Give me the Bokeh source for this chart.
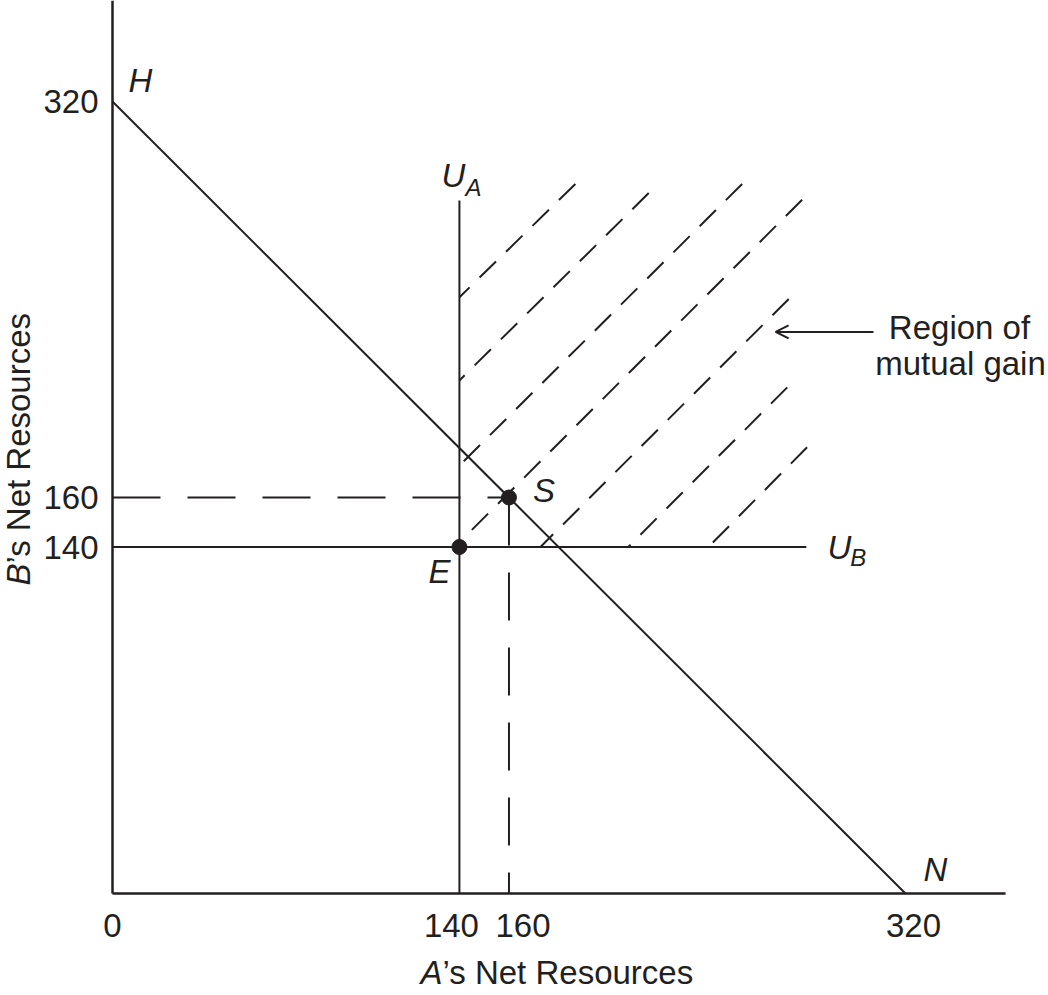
import math
from bokeh.plotting import figure
from bokeh.models import Range1d, Arrow, OpenHead
from bokeh.core.properties import value
from bokeh.embed import file_html
from bokeh.resources import INLINE

# ---------------- data ----------------
frontier_x = [0, 320]          # line H-N
frontier_y = [320, 0]
endow_E = (140, 140)           # point E
split_S = (160, 160)           # point S
ua_x = 140                     # U_A vertical at A = 140
ua_top = 280
ub_y = 140                     # U_B horizontal at B = 140
ub_end = 280
x_axis_end = 360.4
y_axis_end = 360.8

x_tick_values = [0, 140, 160, 320]
x_tick_labels = ["0", "140", "160", "320"]
y_tick_values = [140, 160, 320]
y_tick_labels = ["140", "160", "320"]

# hatch lines of the region of mutual gain (lower-left start, upper-right end)
hatch_x_start = [140, 140, 140, 144.8, 172.7, 208.1, 240.5]
hatch_y_start = [240.9, 207.3, 172.9, 146.7, 140, 140, 140]
hatch_x_end = [186.8, 216.4, 254.1, 278.3, 272.9, 272.3, 280.3]
hatch_y_end = [286.7, 283.0, 286.7, 280.3, 240.2, 204.5, 180.3]

pointer_tip = (267.6, 226.9)
pointer_tail = (307.1, 226.9)

# axis title anchors (data units, outside the positive quadrant)
x_title_pos = (124.3, -31.9)
y_title_pos = (-37.9, 124.4)

# ---------------- style ----------------
INK = "#231f20"
FONT = "Liberation Sans"
FS = "33px"
SUB = "24px"
W, H = 1048, 995
XS, YS = 2.478, 2.475   # px per unit
OX, OY = 112, 893       # pixel of the origin

p = figure(width=W, height=H,
           x_range=Range1d(-OX / XS, (W - OX) / XS),
           y_range=Range1d(-(H - OY) / YS, OY / YS),
           x_axis_location=None, y_axis_location=None,
           output_backend="svg", toolbar_location=None,
           min_border_left=0, min_border_right=0,
           min_border_top=0, min_border_bottom=0)
p.grid.visible = False
p.outline_line_color = None
p.background_fill_color = "white"
p.border_fill_color = "white"

# axes
p.segment(x0=[0, 0], y0=[0, 0], x1=[x_axis_end, 0], y1=[0, y_axis_end],
          line_width=2.5, line_color=INK)

# main lines
p.line(frontier_x, frontier_y, line_width=2, line_color=INK)
p.segment(x0=[ua_x], y0=[0], x1=[ua_x], y1=[ua_top], line_width=2, line_color=INK)
p.segment(x0=[0], y0=[ub_y], x1=[ub_end], y1=[ub_y], line_width=2, line_color=INK)

# dashed guides to S
p.line([0, split_S[0]], [split_S[1], split_S[1]], line_width=2, line_color=INK, line_dash="48 27")
p.line([split_S[0], split_S[0]], [split_S[1], 0], line_width=2, line_color=INK, line_dash="48 27")

# hatch lines (drawn from the upper-right end)
p.segment(x0=hatch_x_end, y0=hatch_y_end, x1=hatch_x_start, y1=hatch_y_start,
          line_width=2, line_color=INK, line_dash="23 14")

# points
p.scatter([endow_E[0], split_S[0]], [endow_E[1], split_S[1]], size=15,
          fill_color=INK, line_color=INK)


def tx(x, y, t, dx=0, dy=0, size=FS, style="italic", align="center", angle=0.0):
    p.text(x=x if isinstance(x, list) else [x], y=y if isinstance(y, list) else [y],
           text=t if isinstance(t, list) else [t], x_offset=dx, y_offset=dy,
           angle=angle,
           text_font=value(FONT), text_font_size=size, text_font_style=style,
           text_color=INK, text_align=align, text_baseline="middle")


# tick labels
nudges = [0, -8, 14, 8]
for v, lbl, n in zip(x_tick_values, x_tick_labels, nudges):
    tx(v, 0, lbl, dx=n, dy=32, style="normal")
tx([0] * len(y_tick_values), y_tick_values, y_tick_labels, dx=-14, style="normal", align="right")

# point / curve labels
tx(frontier_x[0], frontier_y[0], "H", 28, -21)
tx(frontier_x[1], frontier_y[1], "N", 30, -24)
tx(endow_E[0], endow_E[1], "E", -20, 24)
tx(split_S[0], split_S[1], "S", 35, -7)
tx(ua_x, ua_top, "U", -6, -25)
tx(ua_x, ua_top, "A", 14, -13, size=SUB)
tx(ub_end, ub_y, "U", 33, 0)
tx(ub_end, ub_y, "B", 52, 10, size=SUB)
tx(pointer_tail[0], pointer_tail[1], "Region of", 86, -4, style="normal")
tx(pointer_tail[0], pointer_tail[1], "mutual gain", 87, 32, style="normal")

p.add_layout(Arrow(end=OpenHead(size=13, line_width=2, line_color=INK),
                   x_start=pointer_tail[0], y_start=pointer_tail[1],
                   x_end=pointer_tip[0], y_end=pointer_tip[1],
                   line_width=2, line_color=INK))

# axis titles (italic letter + regular rest)
tx(x_title_pos[0], x_title_pos[1], "A", align="left")
tx(x_title_pos[0], x_title_pos[1], "\u2019s Net Resources", dx=22, style="normal", align="left")
tx(y_title_pos[0], y_title_pos[1], "B", align="left", angle=math.pi / 2)
tx(y_title_pos[0], y_title_pos[1], "\u2019s Net Resources", dy=-22, style="normal",
   align="left", angle=math.pi / 2)

open("out.html", "w").write(file_html(p, INLINE))
